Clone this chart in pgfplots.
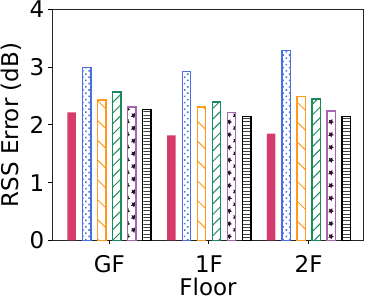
\documentclass[border=0pt]{standalone}
\usepackage{pgfplots}
\pgfplotsset{compat=1.18}
\usepackage{fontspec}
\setmainfont{DejaVu Sans}
\usetikzlibrary{patterns.meta}
\definecolor{cRed}{HTML}{D63C6B}
\definecolor{cBlue}{HTML}{4A6FE3}
\definecolor{cOrange}{HTML}{FF9A1F}
\definecolor{cGreen}{HTML}{1B8A5E}
\definecolor{cPurple}{HTML}{A667B0}
\definecolor{cStar}{HTML}{2A1030}
\begin{document}
\begin{tikzpicture}
\begin{axis}[
  name=ax,
  at={(0,0)}, anchor=south west,
  width=311pt, height=231pt, scale only axis,
  xmin=-0.57, xmax=2.55, ymin=0, ymax=4,
  ybar, bar width=0.085,
  xtick={0,1,2}, xticklabels={GF,1F,2F},
  ytick={0,1,2,3,4},
  tick align=outside, major tick length=4pt,
  xtick pos=bottom, ytick pos=left,
  axis line style={line width=1.1pt, black!85},
  every tick/.style={black, line width=1pt},
  /pgf/number format/assume math mode=true,
  tick label style={font=\fontsize{23}{27}\selectfont, inner sep=0pt},
  yticklabel style={anchor=east, xshift=-4pt},
  xticklabel style={anchor=base, yshift=-28pt},
  xlabel={Floor}, ylabel={RSS Error (dB)},
  label style={font=\fontsize{23}{27}\selectfont, inner sep=0pt},
  xlabel style={at={(axis description cs:0.5,0)}, anchor=base, yshift=-55pt},
  ylabel style={at={(axis description cs:-0.1334,0.5)}, anchor=center},
]
\addplot[bar shift=-0.377, fill=cRed, draw=none] coordinates {(0,2.22) (1,1.82) (2,1.85)};
\addplot[bar shift=-0.226, draw=cBlue, line width=1.4pt, pattern={Dots[radius=1.1pt,distance=4.5pt,angle=45]}, pattern color=cBlue] coordinates {(0,3.00) (1,2.93) (2,3.29)};
\addplot[bar shift=-0.075, draw=cOrange, line width=1.4pt, pattern={Lines[angle=-45,distance=14pt,line width=1pt]}, pattern color=cOrange] coordinates {(0,2.43) (1,2.31) (2,2.49)};
\addplot[bar shift=0.075, draw=cGreen, line width=1.4pt, pattern={Lines[angle=45,distance=7.5pt,line width=1pt]}, pattern color=cGreen] coordinates {(0,2.57) (1,2.40) (2,2.45)};
\addplot[bar shift=0.226, draw=cPurple, line width=1.4pt, pattern={Stars[radius=3pt,points=5,distance=9pt,angle=45]}, pattern color=cStar] coordinates {(0,2.31) (1,2.22) (2,2.24)};
\addplot[bar shift=0.377, draw=black, line width=1.4pt, pattern={Lines[angle=0,distance=3.3pt,line width=0.9pt]}, pattern color=black!75] coordinates {(0,2.27) (1,2.15) (2,2.15)};
\end{axis}
\pgfresetboundingbox
\path ([shift={(-52.5pt,-59.5pt)}]ax.south west) rectangle ([shift={(2.5pt,9.5pt)}]ax.north east);
\end{tikzpicture}
\end{document}
